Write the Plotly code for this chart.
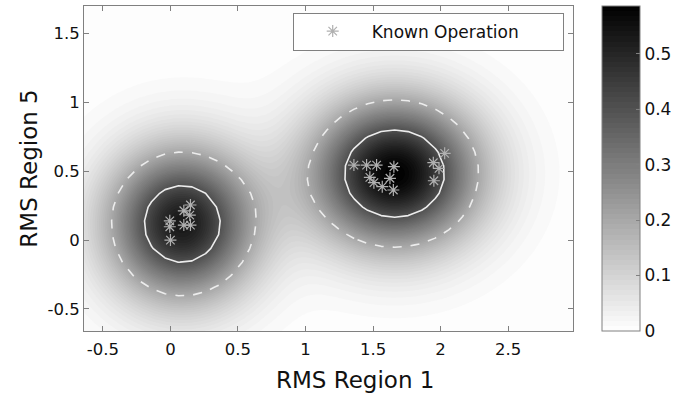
import numpy as np
import plotly.graph_objects as go

# Known operation points (RMS Region 1, RMS Region 5)
known_x = [0.148, 0.099, 0.143, -0.005, -0.005, 0.099, 0.148, 0.000,
           1.358, 1.452, 1.526, 1.654, 1.476, 1.506, 1.625, 1.568, 1.650,
           2.030, 1.946, 1.988, 1.950]
known_y = [0.255, 0.213, 0.182, 0.140, 0.097, 0.109, 0.109, 0.000,
           0.545, 0.545, 0.545, 0.533, 0.456, 0.417, 0.449, 0.388, 0.364,
           0.630, 0.562, 0.521, 0.431]

# density surface: two Gaussian blobs
blob_center_x = [0.085, 1.66]
blob_center_y = [0.118, 0.483]
blob_peak = [0.53, 0.586]
blob_sigma_x = [0.373, 0.423]
blob_sigma_y = [0.373, 0.364]

density_max = 0.586
contour_solid_level = 0.4
contour_dashed_level = 0.2
x_limits = [-0.64, 2.98]
y_limits = [-0.66, 1.70]
x_ticks = [-0.5, 0, 0.5, 1, 1.5, 2, 2.5]
y_ticks = [-0.5, 0, 0.5, 1, 1.5]
colorbar_ticks = [0, 0.1, 0.2, 0.3, 0.4, 0.5]


def density(gx, gy):
    X, Y = np.meshgrid(gx, gy)
    Z = np.zeros_like(X)
    for cx, cy, p, sx, sy in zip(blob_center_x, blob_center_y, blob_peak,
                                 blob_sigma_x, blob_sigma_y):
        Z += p * np.exp(-((X - cx) ** 2 / (2 * sx ** 2) + (Y - cy) ** 2 / (2 * sy ** 2)))
    return Z


gx_f = np.linspace(x_limits[0], x_limits[1], 182)
gy_f = np.linspace(y_limits[0], y_limits[1], 119)
Zf = density(gx_f, gy_f)
scale = density_max / Zf.max()
Zf *= scale

gx_c = np.arange(x_limits[0], x_limits[1] + 0.001, 0.1)
gy_c = np.arange(y_limits[0], y_limits[1] + 0.001, 0.1)
Zc = density(gx_c, gy_c) * scale

FONT = "DejaVu Sans"
fig = go.Figure()

fig.add_trace(go.Contour(
    x=gx_f, y=gy_f, z=Zf,
    zmin=0, zmax=density_max,
    colorscale=[[0, "#ffffff"], [1, "#000000"]],
    contours=dict(start=0, end=density_max, size=density_max / 64, coloring="fill", showlines=False),
    line=dict(width=0),
    showlegend=False, hoverinfo="skip",
    colorbar=dict(
        x=1.059, xanchor="left", y=0.5, yanchor="middle",
        len=1, lenmode="fraction", thickness=38, thicknessmode="pixels",
        xpad=0, ypad=0,
        outlinecolor="#808080", outlinewidth=1,
        tickvals=colorbar_ticks, ticktext=[f"{v:g}" for v in colorbar_ticks],
        ticks="inside", ticklen=4, tickcolor="#808080",
        tickfont=dict(family=FONT, size=17, color="#111111"),
    ),
))

for lvl, dash in [(contour_dashed_level, "dash"), (contour_solid_level, "solid")]:
    fig.add_trace(go.Contour(
        x=gx_c, y=gy_c, z=Zc,
        contours=dict(start=lvl, end=lvl, size=1, coloring="lines"),
        colorscale=[[0, "#ececec"], [1, "#ececec"]],
        line=dict(width=1.6, dash=dash, smoothing=0),
        showscale=False, showlegend=False, hoverinfo="skip",
    ))

fig.add_trace(go.Scatter(
    x=known_x, y=known_y, mode="markers", name="Known Operation",
    showlegend=True,
    marker=dict(symbol="asterisk-open", size=10, color="#b0b0b0",
                line=dict(color="#b0b0b0", width=1.2)),
))

axis_common = dict(
    showline=True, linecolor="#808080", linewidth=1, mirror="ticks",
    ticks="inside", ticklen=5, tickcolor="#808080",
    showgrid=False, zeroline=False, automargin=False,
    tickfont=dict(family=FONT, size=16.5, color="#111111"),
)

fig.update_layout(
    width=680, height=395,
    margin=dict(l=84, r=107, t=6, b=64, autoexpand=False),
    paper_bgcolor="white", plot_bgcolor="white",
    font=dict(family=FONT, color="#111111"),
    showlegend=True,
    xaxis=dict(range=x_limits, tickvals=x_ticks,
               ticktext=[f"{v:g}" for v in x_ticks], ticklabelstandoff=3,
               **axis_common),
    yaxis=dict(range=y_limits, tickvals=y_ticks,
               ticktext=[f"{v:g}" for v in y_ticks],
               title=dict(text="RMS Region 5", font=dict(family=FONT, size=23), standoff=3),
               **axis_common),
    legend=dict(
        x=0.981, xanchor="right", y=0.98, yanchor="top",
        orientation="h", entrywidth=186, entrywidthmode="pixels",
        itemwidth=68,
        bgcolor="white", bordercolor="#808080", borderwidth=1,
        font=dict(family=FONT, size=17, color="#111111"),
    ),
    annotations=[dict(
        text="RMS Region 1", xref="paper", yref="paper",
        x=0.5545, y=-0.151, xanchor="center", yanchor="middle",
        showarrow=False, font=dict(family=FONT, size=23, color="#111111"),
    )],
)

fig.write_html("out.html", config={"displayModeBar": False},
               post_script="document.body.style.margin='0';document.body.style.padding='0';")
